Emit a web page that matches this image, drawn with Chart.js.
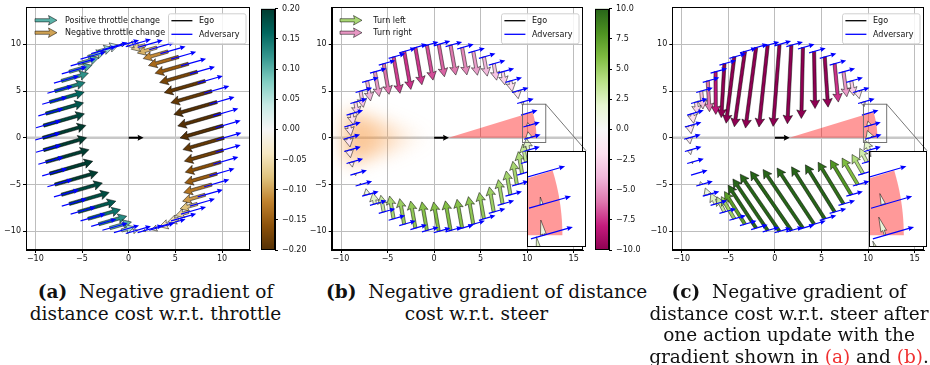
<!DOCTYPE html>
<html lang="en">
<head>
<meta charset="UTF-8">
<title>Distance cost gradients</title>
<script src="https://cdn.jsdelivr.net/npm/chart.js"></script>
<style>
  body { margin: 0; background: #fff; }
  #fig { position: relative; width: 930px; height: 365px; overflow: hidden; }
  #fig canvas { position: absolute; }
  .cap {
    position: absolute; text-align: center; white-space: nowrap;
    font-family: 'DejaVu Serif', serif; font-size: 18.5px; line-height: 21.7px; color: #111;
  }
  .ref { color: #f03030; }
</style>
</head>
<body>
<div id="fig">
  <canvas id="panelA" width="256" height="268" style="left:0px;top:0px"></canvas>
  <canvas id="cbarA" width="64" height="268" style="left:255px;top:0px"></canvas>
  <canvas id="panelB" width="290" height="268" style="left:300px;top:0px"></canvas>
  <canvas id="insetB" width="59" height="96" style="left:527px;top:150.7px"></canvas>
  <canvas id="cbarB" width="60" height="268" style="left:588px;top:0px"></canvas>
  <canvas id="panelC" width="290" height="268" style="left:640px;top:0px"></canvas>
  <canvas id="insetC" width="58" height="96" style="left:869px;top:150.7px"></canvas>

  <div class="cap" style="left:0px;top:281px;width:311px"><b>(a)</b>&nbsp; Negative gradient of<br>distance cost w.r.t. throttle</div>
  <div class="cap" style="left:326px;top:281px;width:301px"><b>(b)</b>&nbsp; Negative gradient of distance<br>cost w.r.t. steer</div>
  <div class="cap" style="left:640px;top:281px;width:298px"><b>(c)</b>&nbsp; Negative gradient of<br>distance cost w.r.t. steer after<br>one action update with the<br>gradient shown in <span class="ref">(a)</span> and <span class="ref">(b)</span>.</div>
</div>
<script>
// adversary positions around the ego car (same in all three panels)
const advX = [10.2, 10.12, 9.87, 9.46, 8.9, 8.2, 7.36, 6.41, 5.35, 4.21, 3.01, 1.77,
  0.5, -0.77, -2.01, -3.21, -4.35, -5.41, -6.36, -7.2, -7.9, -8.46, -8.87, -9.12,
  -9.2, -9.12, -8.87, -8.46, -7.9, -7.2, -6.36, -5.41, -4.35, -3.21, -2.01, -0.77,
  0.5, 1.77, 3.01, 4.21, 5.35, 6.41, 7.36, 8.2, 8.9, 9.46, 9.87, 10.12];
const advY = [0, 1.31, 2.59, 3.83, 5.0, 6.09, 7.07, 7.93, 8.66, 9.24, 9.66, 9.91,
  10, 9.91, 9.66, 9.24, 8.66, 7.93, 7.07, 6.09, 5.0, 3.83, 2.59, 1.31,
  0, -1.31, -2.59, -3.83, -5.0, -6.09, -7.07, -7.93, -8.66, -9.24, -9.66, -9.91,
  -10, -9.91, -9.66, -9.24, -8.66, -7.93, -7.07, -6.09, -5.0, -3.83, -2.59, -1.31];

// (a) throttle gradient, (b) steer gradient, (c) steer gradient after one update
const throttleA = [-0.19, -0.2, -0.2, -0.2, -0.19, -0.19, -0.175, -0.155, -0.14, -0.115, -0.09, -0.065,
  -0.03, 0.015, 0.04, 0.065, 0.08, 0.095, 0.105, 0.125, 0.14, 0.16, 0.175, 0.19,
  0.2, 0.2, 0.2, 0.2, 0.2, 0.19, 0.185, 0.175, 0.15, 0.13, 0.1, 0.06,
  0.02, -0.01, -0.025, -0.04, -0.05, -0.06, -0.08, -0.105, -0.13, -0.15, -0.165, -0.18];
const steerB = [1.2, 0.6, 0.05, -0.65, -1.5, -2.1, -2.6, -3.25, -3.8, -4.7, -5.4, -5.9,
  -6.4, -6.9, -7.35, -7.5, -7.2, -6.05, -4.9, -3.95, -3.2, -2.6, -2.2, -2.0,
  -1.8, -1.5, -1.0, -0.4, 0.3, 1.2, 2.2, 3.3, 4.5, 5.05, 5.35, 5.65,
  5.8, 5.85, 5.7, 5.45, 5.2, 4.95, 4.8, 4.7, 4.6, 4.35, 3.6, 2.3];
const steerC = [1.5, 0.9, 0, -0.9, -1.5, -2.9, -4.9, -7.5, -9.8, -11.1, -13.8, -15.3,
  -16, -16, -15.8, -14.8, -13, -10.5, -8.3, -6, -3.5, -2.4, -1.9, -1.6,
  -1.2, -0.9, -0.35, 0.05, 0.6, 1.4, 2.3, 3.3, 5, 7.5, 10, 12.1,
  13.5, 14, 13.8, 13.1, 12, 10.8, 9.5, 7.9, 6, 4.3, 3, 2.1];

const xTicksA = [-10, -5, 0, 5, 10];
const xTicksBC = [-10, -5, 0, 5, 10, 15];
const yTicks = [-10, -5, 0, 5, 10];
const cbarATicks = [-0.2, -0.15, -0.1, -0.05, 0, 0.05, 0.1, 0.15, 0.2];
const cbarBTicks = [-10, -7.5, -5, -2.5, 0, 2.5, 5, 7.5, 10];

// scene geometry
const HEADING = 16;              // adversary heading (deg)
const STEER_DIR_B = 100;         // steer arrows point across the heading
const STEER_DIR_C = 106;
const STEER_TURN = 3.2;          // heading change (deg) per unit of steer update, panel (c)
const ADV_LEN_A = 2.8, ADV_LEN_BC = 1.85, ADV_PIVOT = 0.3;
const EGO = { x: 0, y: 0, dx: 1.6, dy: 0 };
const WEDGE = { x: 1.55, y: 0, r: 9.45, a0: 0, a1: 17 };
const FAN = { x: 0, y: 0, r: 9.8, half: 17 };
const ZOOM_BOX = { x0: 9.5, x1: 12, y0: -0.5, y1: 3.6 };

const BrBG = ['#543005', '#8c510a', '#bf812d', '#dfc27d', '#f6e8c3', '#f5f5f5', '#c7eae5', '#80cdc1', '#35978f', '#01665e', '#003c30'];
const PiYG = ['#8e0152', '#c51b7d', '#de77ae', '#f1b6da', '#fde0ef', '#f7f7f7', '#e6f5d0', '#b8e186', '#7fbc41', '#4d9221', '#276419'];

const ST_COLOR = { w: 3.2, hw: 9.5, hl: 8.5, ha: 7.5 };
const ST_BLUE = { w: 1.2, hw: 5, hl: 5.5, ha: 5 };
const ST_EGO = { w: 2, hw: 6, hl: 6, ha: 5.4 };
const ST_COLOR_IN = { w: 1.6, hw: 6, hl: 15, ha: 14 };
const ST_BLUE_IN = { w: 1.2, hw: 5, hl: 6, ha: 5.4 };

Chart.defaults.font.family = "'DejaVu Sans', sans-serif";
const FONT = { family: "'DejaVu Sans', sans-serif", size: 8 };

function hex(c) { return [1, 3, 5].map(i => parseInt(c.substr(i, 2), 16)); }
function cmap(stops, t) {
  t = Math.max(0, Math.min(1, t));
  const f = t * (stops.length - 1), i = Math.min(Math.floor(f), stops.length - 2), u = f - i;
  const a = hex(stops[i]), b = hex(stops[i + 1]);
  return 'rgb(' + a.map((v, k) => Math.round(v + (b[k] - v) * u)).join(',') + ')';
}
const fmt = v => (v < 0 ? '\u2212' + (-v) : '' + v);

function arrowPath(ctx, x0, y0, x1, y1, st) {
  const dx = x1 - x0, dy = y1 - y0, L = Math.hypot(dx, dy);
  if (L < 0.3) return false;
  const ux = dx / L, uy = dy / L, nx = -uy, ny = ux;
  let { w, hw, hl, ha } = st;
  if (L < hl) { const s = L / hl; w *= s; hw *= s; hl *= s; ha *= s; }
  const pts = [[0, -w / 2], [L - ha, -w / 2], [L - hl, -hw / 2], [L, 0], [L - hl, hw / 2], [L - ha, w / 2], [0, w / 2]];
  ctx.beginPath();
  pts.forEach(([a, b], i) => {
    const px = x0 + ux * a + nx * b, py = y0 + uy * a + ny * b;
    if (i) ctx.lineTo(px, py); else ctx.moveTo(px, py);
  });
  ctx.closePath();
  return true;
}

function drawFan(ctx, xs, ys) {
  const cx = xs.getPixelForValue(FAN.x), cy = ys.getPixelForValue(FAN.y);
  const rpx = Math.abs(xs.getPixelForValue(FAN.x + FAN.r) - cx);
  const g = ctx.createRadialGradient(cx, cy, 0, cx, cy, rpx);
  g.addColorStop(0, 'rgba(247,150,60,0)');
  g.addColorStop(0.3, 'rgba(247,150,60,0.14)');
  g.addColorStop(0.75, 'rgba(247,150,60,0.55)');
  g.addColorStop(1, 'rgba(247,150,60,0.5)');
  ctx.save();
  ctx.filter = 'blur(9px)';
  ctx.fillStyle = g;
  ctx.beginPath();
  ctx.moveTo(cx, cy);
  for (let a = 180 - FAN.half; a <= 180 + FAN.half; a += 2) {
    const r = a * Math.PI / 180;
    ctx.lineTo(xs.getPixelForValue(FAN.x + FAN.r * Math.cos(r)), ys.getPixelForValue(FAN.y + FAN.r * Math.sin(r)));
  }
  ctx.closePath();
  ctx.fill();
  ctx.restore();
}

function drawWedge(ctx, xs, ys) {
  ctx.beginPath();
  ctx.moveTo(xs.getPixelForValue(WEDGE.x), ys.getPixelForValue(WEDGE.y));
  for (let a = WEDGE.a0; a <= WEDGE.a1; a += 1) {
    const r = a * Math.PI / 180;
    ctx.lineTo(xs.getPixelForValue(WEDGE.x + WEDGE.r * Math.cos(r)), ys.getPixelForValue(WEDGE.y + WEDGE.r * Math.sin(r)));
  }
  ctx.closePath();
  ctx.fillStyle = 'rgba(255,0,0,0.4)';
  ctx.fill();
}

function drawQuiver(ctx, xs, ys, spec) {
  const st = spec.inset ? ST_COLOR_IN : ST_COLOR;
  for (let i = 0; i < advX.length; i++) {
    const v = spec.vals[i];
    const d = (spec.dir + (spec.turnBy ? STEER_TURN * spec.turnBy[i] : 0)) * Math.PI / 180;
    const x0 = xs.getPixelForValue(advX[i]), y0 = ys.getPixelForValue(advY[i]);
    const x1 = xs.getPixelForValue(advX[i] + v * spec.scale * Math.cos(d));
    const y1 = ys.getPixelForValue(advY[i] + v * spec.scale * Math.sin(d));
    if (arrowPath(ctx, x0, y0, x1, y1, st)) {
      ctx.fillStyle = cmap(spec.stops, (v - spec.vmin) / (spec.vmax - spec.vmin));
      ctx.fill();
      ctx.lineWidth = 0.5;
      ctx.strokeStyle = '#000';
      ctx.stroke();
    }
  }
}

function drawAdversary(ctx, xs, ys, spec) {
  const h = HEADING * Math.PI / 180, back = spec.advLen * ADV_PIVOT, fwd = spec.advLen - back;
  const st = spec.inset ? ST_BLUE_IN : ST_BLUE;
  ctx.fillStyle = '#0000ff';
  for (let i = 0; i < advX.length; i++) {
    const x0 = xs.getPixelForValue(advX[i] - back * Math.cos(h)), y0 = ys.getPixelForValue(advY[i] - back * Math.sin(h));
    const x1 = xs.getPixelForValue(advX[i] + fwd * Math.cos(h)), y1 = ys.getPixelForValue(advY[i] + fwd * Math.sin(h));
    if (arrowPath(ctx, x0, y0, x1, y1, st)) ctx.fill();
  }
}

function drawLineLegend(ctx, ca) {
  const bx = ca.right - 82, by = ca.top + 6.3, bw = 77.5, bh = 30;
  ctx.beginPath();
  ctx.roundRect(bx + 0.5, by + 0.5, bw, bh, 2);
  ctx.fillStyle = 'rgba(255,255,255,0.85)';
  ctx.fill();
  ctx.lineWidth = 1;
  ctx.strokeStyle = '#d0d0d0';
  ctx.stroke();
  const rows = [['Ego', '#000000', 7.4], ['Adversary', '#0000ff', 21]];
  ctx.font = "8px 'DejaVu Sans'";
  ctx.textBaseline = 'middle';
  ctx.textAlign = 'left';
  rows.forEach(([label, color, dy]) => {
    ctx.beginPath();
    ctx.moveTo(bx + 3.4, by + dy);
    ctx.lineTo(bx + 24.4, by + dy);
    ctx.strokeStyle = color;
    ctx.lineWidth = 1.3;
    ctx.stroke();
    ctx.fillStyle = '#111';
    ctx.fillText(label, bx + 31, by + dy + 0.5);
  });
}

function drawArrowLegend(ctx, ca, spec) {
  ctx.font = "8px 'DejaVu Sans'";
  ctx.textBaseline = 'middle';
  ctx.textAlign = 'left';
  spec.keys.forEach((k, i) => {
    const y = ca.top + 13.3 + i * 12.4;
    if (arrowPath(ctx, ca.left + spec.keyX0, y, ca.left + spec.keyX0 + 22, y, ST_COLOR)) {
      ctx.fillStyle = cmap(spec.stops, (k.v - spec.vmin) / (spec.vmax - spec.vmin));
      ctx.fill();
      ctx.lineWidth = 0.5;
      ctx.strokeStyle = '#000';
      ctx.stroke();
    }
    ctx.fillStyle = '#111';
    ctx.fillText(k.label, ca.left + spec.keyText, y + 0.5);
  });
}

function panelPlugin(spec) {
  return {
    id: 'panel',
    beforeDatasetsDraw(chart) {
      const { ctx, chartArea: ca, scales: { x: xs, y: ys } } = chart;
      ctx.save();
      ctx.beginPath();
      ctx.rect(ca.left, ca.top, ca.width, ca.height);
      ctx.clip();
      if (spec.inset) {
        ctx.fillStyle = '#fff';
        ctx.fillRect(ca.left, ca.top, ca.width, ca.height);
      } else {
        const y0 = ys.getPixelForValue(0);
        ctx.beginPath();
        ctx.moveTo(ca.left, y0);
        ctx.lineTo(ca.right, y0);
        ctx.strokeStyle = '#c8c8c8';
        ctx.lineWidth = 2.5;
        ctx.stroke();
      }
      if (spec.fan) drawFan(ctx, xs, ys);
      if (spec.wedge) drawWedge(ctx, xs, ys);
      drawQuiver(ctx, xs, ys, spec);
      drawAdversary(ctx, xs, ys, spec);
      if (!spec.inset) {
        ctx.fillStyle = '#000';
        if (arrowPath(ctx, xs.getPixelForValue(EGO.x), ys.getPixelForValue(EGO.y),
          xs.getPixelForValue(EGO.x + EGO.dx), ys.getPixelForValue(EGO.y + EGO.dy), ST_EGO)) ctx.fill();
      }
      ctx.restore();
    },
    afterDraw(chart) {
      const { ctx, chartArea: ca, scales: { x: xs, y: ys } } = chart;
      ctx.save();
      if (spec.insetCorner) {
        const rx0 = xs.getPixelForValue(ZOOM_BOX.x0), rx1 = xs.getPixelForValue(ZOOM_BOX.x1);
        const ry0 = ys.getPixelForValue(ZOOM_BOX.y0), ry1 = ys.getPixelForValue(ZOOM_BOX.y1);
        ctx.strokeStyle = '#666';
        ctx.lineWidth = 0.9;
        ctx.strokeRect(rx0, ry1, rx1 - rx0, ry0 - ry1);
        ctx.beginPath();
        ctx.moveTo(rx1, ry1);
        ctx.lineTo(spec.insetCorner[0], spec.insetCorner[1]);
        ctx.stroke();
      }
      if (spec.keys) drawArrowLegend(ctx, ca, spec);
      if (!spec.inset) drawLineLegend(ctx, ca);
      ctx.strokeStyle = '#000';
      ctx.lineWidth = 1;
      ctx.strokeRect(Math.round(ca.left) + 0.5, Math.round(ca.top) + 0.5,
        Math.round(ca.right) - Math.round(ca.left) - 1, Math.round(ca.bottom) - Math.round(ca.top) - 1);
      ctx.restore();
    }
  };
}

function points() { return advX.map((x, i) => ({ x, y: advY[i] })); }

function mainChart(id, spec, xTicks, xMin, xMax, yWidth, padRight) {
  const grid = { color: '#bdbdbd', lineWidth: 1, tickColor: '#000', tickLength: 3 };
  return new Chart(document.getElementById(id), {
    type: 'scatter',
    data: { datasets: [{ data: points(), pointRadius: 0 }] },
    options: {
      responsive: false, animation: false, events: [],
      layout: { padding: { top: 7, right: padRight, left: 0, bottom: 0 } },
      plugins: { legend: { display: false }, tooltip: { enabled: false } },
      scales: {
        x: {
          type: 'linear', min: xMin, max: xMax,
          afterBuildTicks: s => { s.ticks = xTicks.map(v => ({ value: v })); },
          afterFit: s => { s.height = 18; },
          ticks: { callback: fmt, font: FONT, color: '#111', padding: 1, maxRotation: 0, autoSkip: false },
          grid, border: { color: '#000', width: 1 }
        },
        y: {
          type: 'linear', min: -12, max: 14,
          afterBuildTicks: s => { s.ticks = yTicks.map(v => ({ value: v })); },
          afterFit: s => { s.width = yWidth; },
          ticks: { callback: fmt, font: FONT, color: '#111', padding: 2, autoSkip: false },
          grid, border: { color: '#000', width: 1 }
        }
      }
    },
    plugins: [panelPlugin(spec)]
  });
}

function insetChart(id, spec) {
  return new Chart(document.getElementById(id), {
    type: 'scatter',
    data: { datasets: [{ data: points(), pointRadius: 0 }] },
    options: {
      responsive: false, animation: false, events: [],
      layout: { padding: 0 },
      plugins: { legend: { display: false }, tooltip: { enabled: false } },
      scales: {
        x: { type: 'linear', display: false, min: ZOOM_BOX.x0, max: ZOOM_BOX.x1 },
        y: { type: 'linear', display: false, min: ZOOM_BOX.y0, max: ZOOM_BOX.y1 }
      }
    },
    plugins: [panelPlugin(spec)]
  });
}

function colorbar(id, stops, ticks, digits, padLeft, yWidth) {
  return new Chart(document.getElementById(id), {
    type: 'scatter',
    data: { datasets: [] },
    options: {
      responsive: false, animation: false, events: [],
      layout: { padding: { top: 7, bottom: 18, left: padLeft, right: 0 } },
      plugins: { legend: { display: false }, tooltip: { enabled: false } },
      scales: {
        x: { type: 'linear', display: false, min: 0, max: 1 },
        y: {
          type: 'linear', position: 'right', min: ticks[0], max: ticks[ticks.length - 1],
          afterBuildTicks: s => { s.ticks = ticks.map(v => ({ value: v })); },
          afterFit: s => { s.width = yWidth; },
          ticks: { callback: v => (v < 0 ? '\u2212' : '') + Math.abs(v).toFixed(digits), font: FONT, color: '#111', padding: 4, autoSkip: false },
          grid: { drawOnChartArea: false, tickLength: 3, color: '#000' },
          border: { color: '#000' }
        }
      }
    },
    plugins: [{
      id: 'cbar',
      beforeDatasetsDraw(chart) {
        const { ctx, chartArea: ca } = chart;
        const g = ctx.createLinearGradient(0, ca.bottom, 0, ca.top);
        stops.forEach((c, i) => g.addColorStop(i / (stops.length - 1), c));
        ctx.fillStyle = g;
        ctx.fillRect(ca.left, ca.top, ca.width, ca.height);
      },
      afterDraw(chart) {
        const { ctx, chartArea: ca } = chart;
        ctx.strokeStyle = '#000';
        ctx.lineWidth = 1;
        ctx.strokeRect(Math.round(ca.left) + 0.5, Math.round(ca.top) + 0.5,
          Math.round(ca.right) - Math.round(ca.left) - 1, Math.round(ca.bottom) - Math.round(ca.top) - 1);
      }
    }]
  });
}

const specA = {
  vals: throttleA, dir: HEADING, scale: 24, stops: BrBG, vmin: -0.2, vmax: 0.2, advLen: ADV_LEN_A,
  keys: [{ label: 'Positive throttle change', v: 0.1 }, { label: 'Negative throttle change', v: -0.1 }],
  keyX0: 9, keyText: 39
};
const specB = {
  vals: steerB, dir: STEER_DIR_B, scale: 0.55, stops: PiYG, vmin: -10, vmax: 10, advLen: ADV_LEN_BC,
  fan: true, wedge: true, insetCorner: [286, 150.7],
  keys: [{ label: 'Turn left', v: 4.5 }, { label: 'Turn right', v: -5 }],
  keyX0: 8.3, keyText: 41.6
};
const specC = {
  vals: steerC, dir: STEER_DIR_C, turnBy: steerB, scale: 0.55, stops: PiYG, vmin: -10, vmax: 10, advLen: ADV_LEN_BC,
  wedge: true, insetCorner: [287, 150.7]
};

mainChart('panelA', specA, xTicksA, -11, 13, 26, 6);
colorbar('cbarA', BrBG, cbarATicks, 2, 6, 44);
mainChart('panelB', specB, xTicksBC, -11, 16, 31.7, 7);
insetChart('insetB', Object.assign({}, specB, { inset: true, fan: false, keys: null, insetCorner: null }));
colorbar('cbarB', PiYG, cbarBTicks, 1, 7, 39);
mainChart('panelC', specC, xTicksBC, -11, 16, 32.3, 6);
insetChart('insetC', Object.assign({}, specC, { inset: true, insetCorner: null }));
</script>
</body>
</html>
